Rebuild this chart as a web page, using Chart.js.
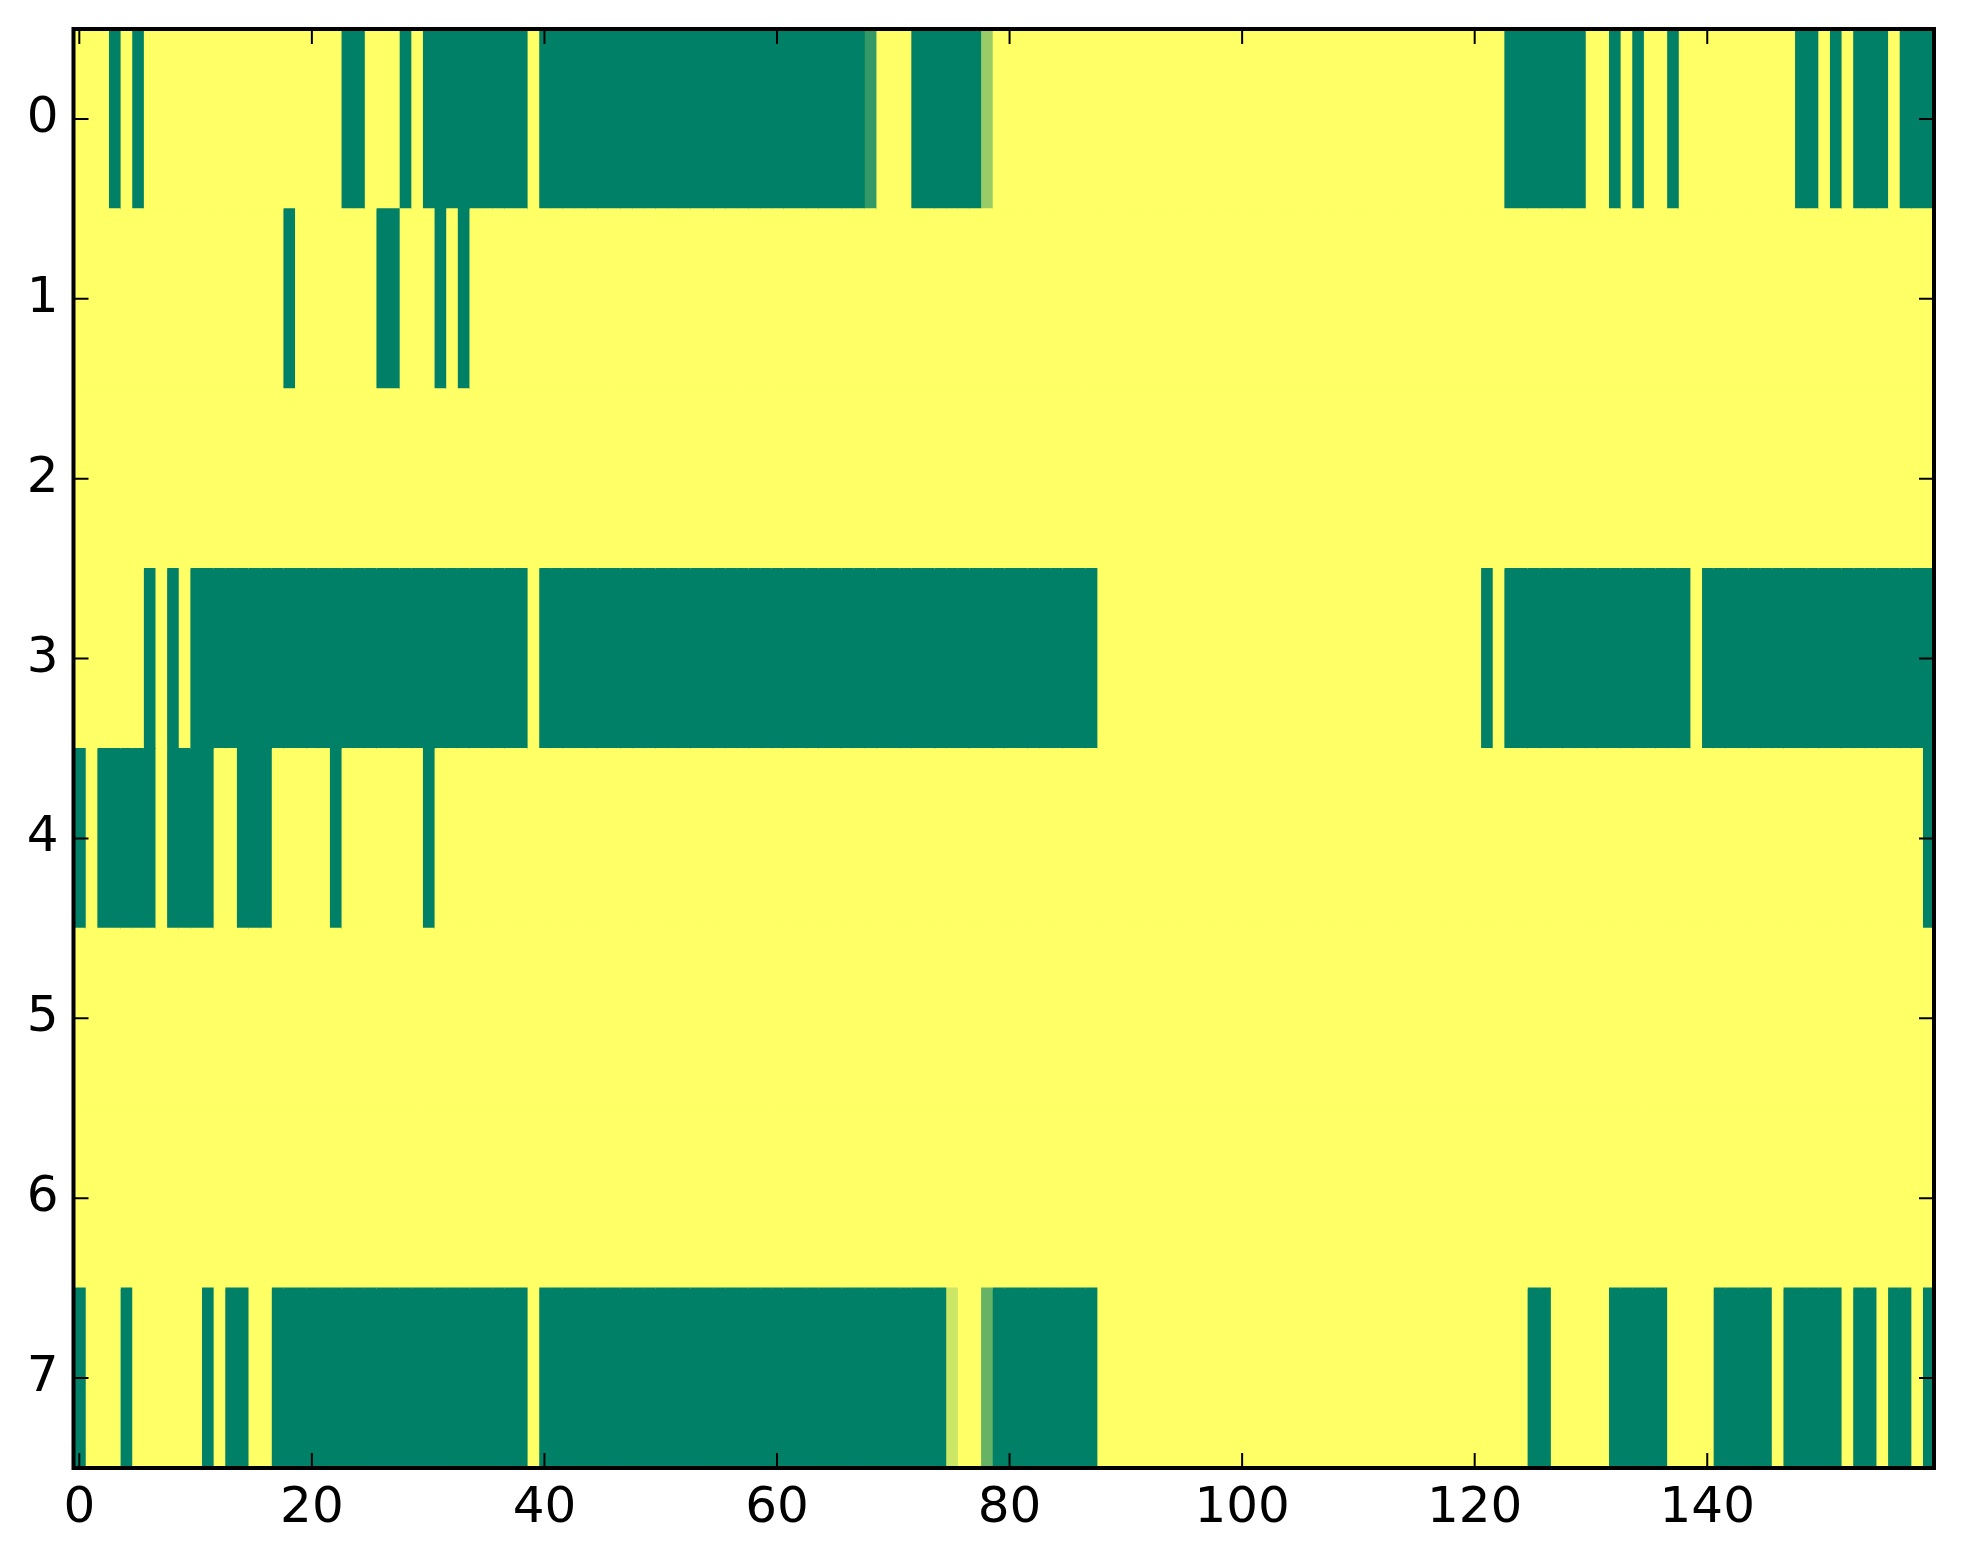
<!DOCTYPE html>
<html>
<head>
<meta charset="utf-8">
<script src="https://cdn.jsdelivr.net/npm/chart.js@4.4.1/dist/chart.umd.min.js"></script>
<style>
  html, body { margin: 0; padding: 0; background: #ffffff; }
  canvas { display: block; }
</style>
</head>
<body>
<canvas id="c" width="1963" height="1564"></canvas>
<script>
// ---- data (0 = low / green, 1 = high / yellow) ----
const rowLabels = ['0', '1', '2', '3', '4', '5', '6', '7'];
const xTickValues = [0, 20, 40, 60, 80, 100, 120, 140];

const row0 = [
  1,1,1,0,1,0,1,1,1,1, 1,1,1,1,1,1,1,1,1,1,
  1,1,1,0,0,1,1,1,0,1, 0,0,0,0,0,0,0,0,0,1,
  0,0,0,0,0,0,0,0,0,0, 0,0,0,0,0,0,0,0,0,0,
  0,0,0,0,0,0,0,0,0.2,1, 1,1,0,0,0,0,0,0,0.6,1,
  1,1,1,1,1,1,1,1,1,1, 1,1,1,1,1,1,1,1,1,1,
  1,1,1,1,1,1,1,1,1,1, 1,1,1,1,1,1,1,1,1,1,
  1,1,1,0,0,0,0,0,0,0, 1,1,0,1,0,1,1,0,1,1,
  1,1,1,1,1,1,1,1,0,0, 1,0,1,0,0,0,1,0,0,0
];
const row1 = [
  1,1,1,1,1,1,1,1,1,1, 1,1,1,1,1,1,1,1,0,1,
  1,1,1,1,1,1,0,0,1,1, 1,0,1,0,1,1,1,1,1,1,
  1,1,1,1,1,1,1,1,1,1, 1,1,1,1,1,1,1,1,1,1,
  1,1,1,1,1,1,1,1,1,1, 1,1,1,1,1,1,1,1,1,1,
  1,1,1,1,1,1,1,1,1,1, 1,1,1,1,1,1,1,1,1,1,
  1,1,1,1,1,1,1,1,1,1, 1,1,1,1,1,1,1,1,1,1,
  1,1,1,1,1,1,1,1,1,1, 1,1,1,1,1,1,1,1,1,1,
  1,1,1,1,1,1,1,1,1,1, 1,1,1,1,1,1,1,1,1,1
];
const row2 = [
  1,1,1,1,1,1,1,1,1,1, 1,1,1,1,1,1,1,1,1,1,
  1,1,1,1,1,1,1,1,1,1, 1,1,1,1,1,1,1,1,1,1,
  1,1,1,1,1,1,1,1,1,1, 1,1,1,1,1,1,1,1,1,1,
  1,1,1,1,1,1,1,1,1,1, 1,1,1,1,1,1,1,1,1,1,
  1,1,1,1,1,1,1,1,1,1, 1,1,1,1,1,1,1,1,1,1,
  1,1,1,1,1,1,1,1,1,1, 1,1,1,1,1,1,1,1,1,1,
  1,1,1,1,1,1,1,1,1,1, 1,1,1,1,1,1,1,1,1,1,
  1,1,1,1,1,1,1,1,1,1, 1,1,1,1,1,1,1,1,1,1
];
const row3 = [
  1,1,1,1,1,1,0,1,0,1, 0,0,0,0,0,0,0,0,0,0,
  0,0,0,0,0,0,0,0,0,0, 0,0,0,0,0,0,0,0,0,1,
  0,0,0,0,0,0,0,0,0,0, 0,0,0,0,0,0,0,0,0,0,
  0,0,0,0,0,0,0,0,0,0, 0,0,0,0,0,0,0,0,0,0,
  0,0,0,0,0,0,0,0,1,1, 1,1,1,1,1,1,1,1,1,1,
  1,1,1,1,1,1,1,1,1,1, 1,1,1,1,1,1,1,1,1,1,
  1,0,1,0,0,0,0,0,0,0, 0,0,0,0,0,0,0,0,0,1,
  0,0,0,0,0,0,0,0,0,0, 0,0,0,0,0,0,0,0,0,0
];
const row4 = [
  0,1,0,0,0,0,0,1,0,0, 0,0,1,1,0,0,0,1,1,1,
  1,1,0,1,1,1,1,1,1,1, 0,1,1,1,1,1,1,1,1,1,
  1,1,1,1,1,1,1,1,1,1, 1,1,1,1,1,1,1,1,1,1,
  1,1,1,1,1,1,1,1,1,1, 1,1,1,1,1,1,1,1,1,1,
  1,1,1,1,1,1,1,1,1,1, 1,1,1,1,1,1,1,1,1,1,
  1,1,1,1,1,1,1,1,1,1, 1,1,1,1,1,1,1,1,1,1,
  1,1,1,1,1,1,1,1,1,1, 1,1,1,1,1,1,1,1,1,1,
  1,1,1,1,1,1,1,1,1,1, 1,1,1,1,1,1,1,1,1,0
];
const row5 = [
  1,1,1,1,1,1,1,1,1,1, 1,1,1,1,1,1,1,1,1,1,
  1,1,1,1,1,1,1,1,1,1, 1,1,1,1,1,1,1,1,1,1,
  1,1,1,1,1,1,1,1,1,1, 1,1,1,1,1,1,1,1,1,1,
  1,1,1,1,1,1,1,1,1,1, 1,1,1,1,1,1,1,1,1,1,
  1,1,1,1,1,1,1,1,1,1, 1,1,1,1,1,1,1,1,1,1,
  1,1,1,1,1,1,1,1,1,1, 1,1,1,1,1,1,1,1,1,1,
  1,1,1,1,1,1,1,1,1,1, 1,1,1,1,1,1,1,1,1,1,
  1,1,1,1,1,1,1,1,1,1, 1,1,1,1,1,1,1,1,1,1
];
const row6 = [
  1,1,1,1,1,1,1,1,1,1, 1,1,1,1,1,1,1,1,1,1,
  1,1,1,1,1,1,1,1,1,1, 1,1,1,1,1,1,1,1,1,1,
  1,1,1,1,1,1,1,1,1,1, 1,1,1,1,1,1,1,1,1,1,
  1,1,1,1,1,1,1,1,1,1, 1,1,1,1,1,1,1,1,1,1,
  1,1,1,1,1,1,1,1,1,1, 1,1,1,1,1,1,1,1,1,1,
  1,1,1,1,1,1,1,1,1,1, 1,1,1,1,1,1,1,1,1,1,
  1,1,1,1,1,1,1,1,1,1, 1,1,1,1,1,1,1,1,1,1,
  1,1,1,1,1,1,1,1,1,1, 1,1,1,1,1,1,1,1,1,1
];
const row7 = [
  0,1,1,1,0,1,1,1,1,1, 1,0,1,0,0,1,1,0,0,0,
  0,0,0,0,0,0,0,0,0,0, 0,0,0,0,0,0,0,0,0,1,
  0,0,0,0,0,0,0,0,0,0, 0,0,0,0,0,0,0,0,0,0,
  0,0,0,0,0,0,0,0,0,0, 0,0,0,0,0,0.8,1,1,0.4,0,
  0,0,0,0,0,0,0,0,1,1, 1,1,1,1,1,1,1,1,1,1,
  1,1,1,1,1,1,1,1,1,1, 1,1,1,1,1,1,1,1,1,1,
  1,1,1,1,1,0,0,1,1,1, 1,1,0,0,0,0,0,1,1,1,
  1,0,0,0,0,0,1,0,0,0, 0,0,1,0,0,1,0,0,1,0
];
const rows = [row0, row1, row2, row3, row4, row5, row6, row7];

// ---- colour map (matplotlib "summer") ----
function summer(v) {
  const r = Math.round(255 * v);
  const g = Math.round(255 * (0.5 + 0.5 * v));
  const b = Math.round(255 * 0.4);
  return `rgb(${r},${g},${b})`;
}

const nCols = row0.length;
const datasets = [];
for (let c = 0; c < nCols; c++) {
  datasets.push({
    data: rows.map(() => [c - 0.5, c + 0.5]),
    backgroundColor: rows.map(r => summer(r[c])),
    borderWidth: 0,
    inflateAmount: 0.6,
    barPercentage: 1,
    categoryPercentage: 1,
    grouped: false
  });
}

const FONT = { family: 'DejaVu Sans', size: 50 };

const framePlugin = {
  id: 'frame',
  afterDatasetsDraw(chart) {
    const { ctx, chartArea: a, scales } = chart;
    const tl = 15;
    ctx.save();
    ctx.strokeStyle = '#000';
    ctx.lineWidth = 2;
    ctx.beginPath();
    xTickValues.forEach(v => {
      const px = scales.x.getPixelForValue(v);
      ctx.moveTo(px, a.bottom); ctx.lineTo(px, a.bottom - tl);
      ctx.moveTo(px, a.top); ctx.lineTo(px, a.top + tl);
    });
    rowLabels.forEach((l, i) => {
      const py = scales.y.getPixelForValue(i);
      ctx.moveTo(a.left, py); ctx.lineTo(a.left + tl, py);
      ctx.moveTo(a.right, py); ctx.lineTo(a.right - tl, py);
    });
    ctx.stroke();
    ctx.lineWidth = 4;
    ctx.strokeRect(a.left, a.top, a.right - a.left, a.bottom - a.top);
    ctx.restore();
  }
};

new Chart(document.getElementById('c'), {
  type: 'bar',
  data: { labels: rowLabels, datasets },
  options: {
    indexAxis: 'y',
    responsive: false,
    animation: false,
    devicePixelRatio: 1,
    layout: { padding: { top: 29, right: 29, left: 0, bottom: 0 } },
    plugins: { legend: { display: false }, tooltip: { enabled: false } },
    scales: {
      x: {
        type: 'linear',
        position: 'bottom',
        min: -0.5,
        max: 159.5,
        grid: { display: false },
        border: { display: false },
        afterBuildTicks: s => { s.ticks = xTickValues.map(v => ({ value: v })); },
        afterFit: s => { s.height = 96; s.paddingLeft = 0; s.paddingRight = 0; },
        ticks: { font: FONT, color: '#000', padding: 3, autoSkip: false, maxRotation: 0 }
      },
      y: {
        type: 'category',
        labels: rowLabels,
        offset: true,
        grid: { display: false, offset: true },
        border: { display: false },
        afterFit: s => { s.width = 73.5; s.paddingTop = 0; s.paddingBottom = 0; },
        ticks: { font: FONT, color: '#000', padding: 7 }
      }
    }
  },
  plugins: [framePlugin]
});
</script>
</body>
</html>
